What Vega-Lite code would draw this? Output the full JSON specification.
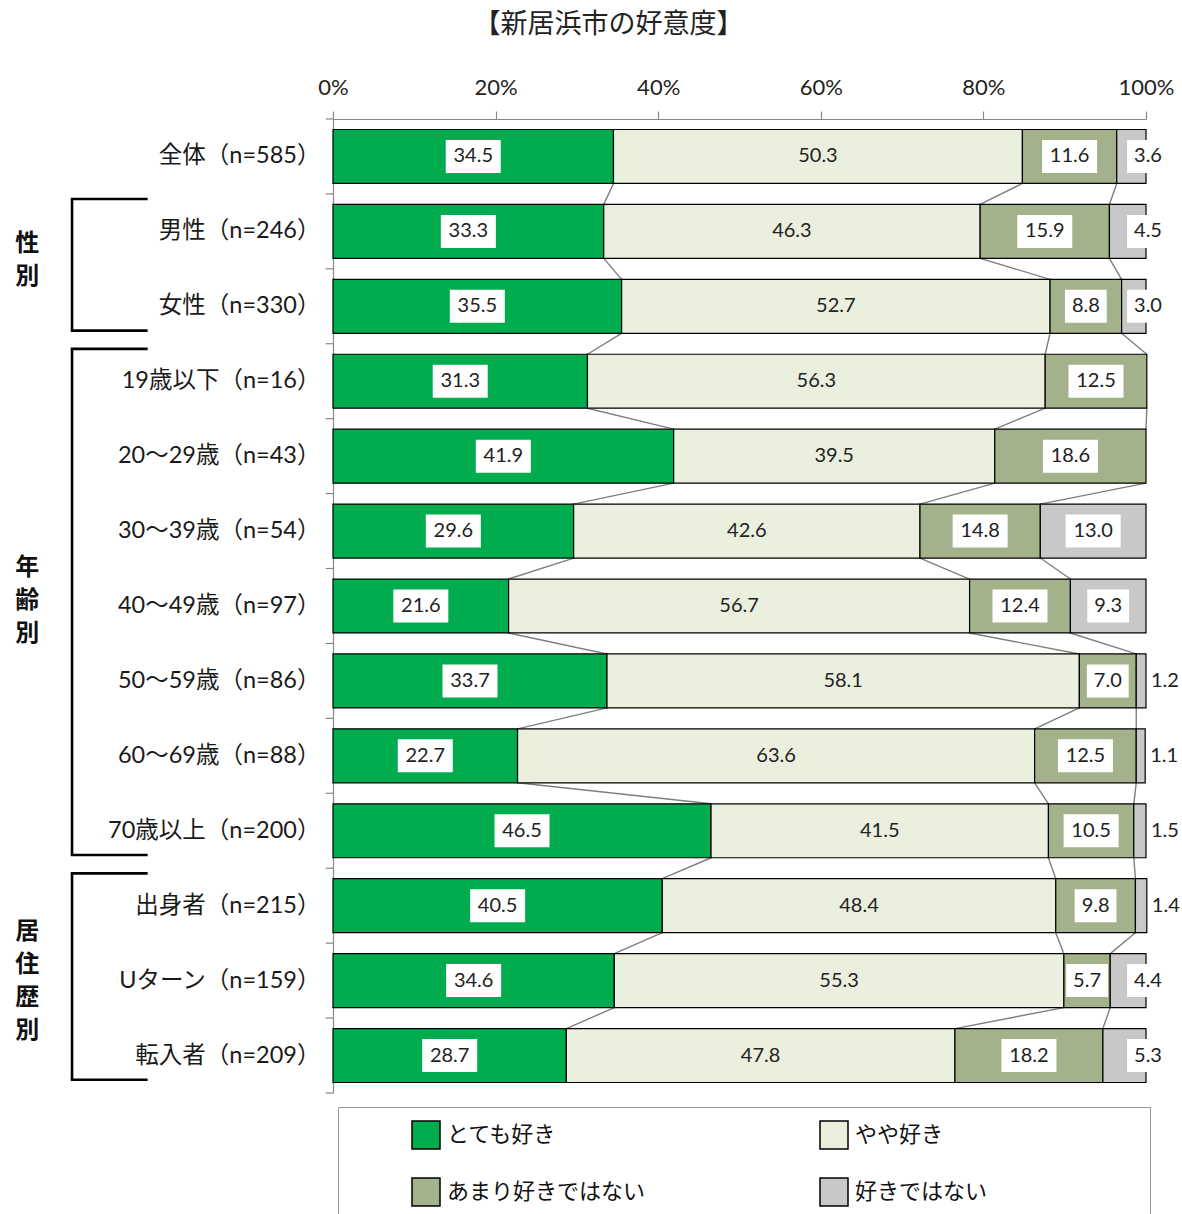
{
  "$schema": "https://vega.github.io/schema/vega-lite/v6.json",
  "width": 813,
  "height": 974,
  "autosize": "none",
  "padding": {"left": 333, "top": 119, "right": 36, "bottom": 121},
  "background": "white",
  "title": {
    "text": "【新居浜市の好意度】",
    "fontSize": 27,
    "font": "Noto Sans CJK JP",
    "fontWeight": "normal",
    "color": "#222222",
    "anchor": "middle",
    "dx": -131,
    "offset": 37
  },
  "config": {
    "view": {"stroke": null},
    "axisY": {
      "domainColor": "#888888",
      "domainWidth": 1.2,
      "ticks": false,
      "tickSize": 0,
      "labelPadding": 13,
      "labelFontSize": 23.5,
      "labelFont": "Lato, 'Noto Sans CJK JP'",
      "labelColor": "#1a1a1a",
      "labelLimit": 300
    },
    "axisX": {
      "domainColor": "#888888",
      "domainWidth": 1.2,
      "tickColor": "#888888",
      "tickSize": 8,
      "tickWidth": 1.2,
      "labelFontSize": 22,
      "labelFont": "Lato",
      "labelColor": "#222222",
      "labelPadding": 12,
      "labelFlush": false,
      "grid": false
    }
  },
  "datasets": {
    "rows": [
      {"row": "全体（n=585）", "とても好き": 34.5, "やや好き": 50.3, "あまり好きではない": 11.6, "好きではない": 3.6},
      {"row": "男性（n=246）", "とても好き": 33.3, "やや好き": 46.3, "あまり好きではない": 15.9, "好きではない": 4.5},
      {"row": "女性（n=330）", "とても好き": 35.5, "やや好き": 52.7, "あまり好きではない": 8.8, "好きではない": 3.0},
      {"row": "19歳以下（n=16）", "とても好き": 31.3, "やや好き": 56.3, "あまり好きではない": 12.5, "好きではない": null},
      {"row": "20～29歳（n=43）", "とても好き": 41.9, "やや好き": 39.5, "あまり好きではない": 18.6, "好きではない": null},
      {"row": "30～39歳（n=54）", "とても好き": 29.6, "やや好き": 42.6, "あまり好きではない": 14.8, "好きではない": 13.0},
      {"row": "40～49歳（n=97）", "とても好き": 21.6, "やや好き": 56.7, "あまり好きではない": 12.4, "好きではない": 9.3},
      {"row": "50～59歳（n=86）", "とても好き": 33.7, "やや好き": 58.1, "あまり好きではない": 7.0, "好きではない": 1.2},
      {"row": "60～69歳（n=88）", "とても好き": 22.7, "やや好き": 63.6, "あまり好きではない": 12.5, "好きではない": 1.1},
      {"row": "70歳以上（n=200）", "とても好き": 46.5, "やや好き": 41.5, "あまり好きではない": 10.5, "好きではない": 1.5},
      {"row": "出身者（n=215）", "とても好き": 40.5, "やや好き": 48.4, "あまり好きではない": 9.8, "好きではない": 1.4},
      {"row": "Uターン（n=159）", "とても好き": 34.6, "やや好き": 55.3, "あまり好きではない": 5.7, "好きではない": 4.4},
      {"row": "転入者（n=209）", "とても好き": 28.7, "やや好き": 47.8, "あまり好きではない": 18.2, "好きではない": 5.3}
    ],
    "groups": [
      {"group": "性\n別", "first": "男性（n=246）", "last": "女性（n=330）", "anchor": "男性（n=246）", "kind": "a"},
      {"group": "年\n齢\n別", "first": "19歳以下（n=16）", "last": "70歳以上（n=200）", "anchor": "40～49歳（n=97）", "kind": "b"},
      {"group": "居\n住\n歴\n別", "first": "出身者（n=215）", "last": "転入者（n=209）", "anchor": "Uターン（n=159）", "kind": "c"}
    ]
  },
  "layer": [
    {
      "data": {"name": "rows"},
      "transform": [
        {"calculate": "datum['とても好き']", "as": "c1"},
        {"calculate": "datum['とても好き'] + datum['やや好き']", "as": "c2"},
        {"calculate": "datum['とても好き'] + datum['やや好き'] + datum['あまり好きではない']", "as": "c3"},
        {"window": [
          {"op": "lead", "field": "c1", "as": "n1"},
          {"op": "lead", "field": "c2", "as": "n2"},
          {"op": "lead", "field": "c3", "as": "n3"},
          {"op": "lead", "field": "row", "as": "nrow"}
        ]},
        {"filter": "isValid(datum.nrow)"}
      ],
      "layer": [
        {
          "mark": {"type": "rule", "color": "#7f7f7f", "strokeWidth": 1.4},
          "encoding": {
            "x": {"field": "c1", "type": "quantitative", "title": null},
            "x2": {"field": "n1"},
            "y": {"field": "row", "type": "nominal", "sort": null, "bandPosition": 1, "title": null},
            "y2": {"field": "nrow", "bandPosition": 0}
          }
        },
        {
          "mark": {"type": "rule", "color": "#7f7f7f", "strokeWidth": 1.4},
          "encoding": {
            "x": {"field": "c2", "type": "quantitative", "title": null},
            "x2": {"field": "n2"},
            "y": {"field": "row", "type": "nominal", "sort": null, "bandPosition": 1, "title": null},
            "y2": {"field": "nrow", "bandPosition": 0}
          }
        },
        {
          "mark": {"type": "rule", "color": "#7f7f7f", "strokeWidth": 1.4},
          "encoding": {
            "x": {"field": "c3", "type": "quantitative", "title": null},
            "x2": {"field": "n3"},
            "y": {"field": "row", "type": "nominal", "sort": null, "bandPosition": 1, "title": null},
            "y2": {"field": "nrow", "bandPosition": 0}
          }
        }
      ]
    },
    {
      "data": {"name": "rows"},
      "transform": [
        {"fold": ["とても好き", "やや好き", "あまり好きではない", "好きではない"], "as": ["cat", "val"]},
        {"filter": "isValid(datum.val)"},
        {"calculate": "indexof(['とても好き','やや好き','あまり好きではない','好きではない'], datum.cat)", "as": "ord"},
        {"stack": "val", "groupby": ["row"], "sort": [{"field": "ord", "order": "ascending"}], "as": ["x0", "x1"]},
        {"calculate": "(datum.x0 + datum.x1) / 2", "as": "mid"}
      ],
      "layer": [
        {
          "mark": {"type": "bar", "stroke": "#000000", "strokeWidth": 1.2},
          "encoding": {
            "y": {
              "field": "row", "type": "nominal", "sort": null, "title": null,
              "scale": {
                "domain": ["全体（n=585）", "男性（n=246）", "女性（n=330）", "19歳以下（n=16）", "20～29歳（n=43）", "30～39歳（n=54）", "40～49歳（n=97）", "50～59歳（n=86）", "60～69歳（n=88）", "70歳以上（n=200）", "出身者（n=215）", "Uターン（n=159）", "転入者（n=209）"],
                "paddingInner": 0.28, "paddingOuter": 0.14
              }
            },
            "x": {
              "field": "x0", "type": "quantitative", "title": null,
              "scale": {"domain": [0, 100], "nice": false},
              "axis": {"orient": "top", "values": [0, 20, 40, 60, 80, 100], "labelExpr": "datum.value + '%'"}
            },
            "x2": {"field": "x1"},
            "color": {
              "field": "cat", "type": "nominal",
              "scale": {
                "domain": ["とても好き", "やや好き", "あまり好きではない", "好きではない"],
                "range": ["#00ac4e", "#ebefde", "#a3b28a", "#c8c8c8"]
              },
              "legend": {
                "title": "⠀⠀⠀",
                "titleOrient": "left",
                "titleFontSize": 25,
                "titleFont": "DejaVu Sans",
                "titlePadding": 1,
                "orient": "none",
                "legendX": 5,
                "legendY": 988,
                "direction": "horizontal",
                "columns": 2,
                "symbolType": "square",
                "symbolSize": 784,
                "symbolStrokeColor": "#000000",
                "symbolStrokeWidth": 1.5,
                "labelFontSize": 22,
                "labelFont": "Noto Sans CJK JP, DejaVu Sans",
                "labelColor": "#111111",
                "labelOffset": 6,
                "labelLimit": 600,
                "columnPadding": 22,
                "rowPadding": 23,
                "padding": 13,
                "strokeColor": "#999999",
                "labelExpr": "datum.label + '⠀⠀⠀⠀ ⠀⠀⠀⠀⠀'"
              }
            }
          }
        },
        {
          "transform": [{"filter": "datum.cat != 'やや好き' && datum.val >= 10 && !(datum.cat == '好きではない' && datum.val < 6)"}],
          "mark": {"type": "point", "shape": "M-1,-0.6H1V0.6H-1Z", "size": 3025, "filled": true, "color": "#ffffff", "opacity": 1, "strokeWidth": 0},
          "encoding": {
            "y": {"field": "row", "type": "nominal", "sort": null, "title": null},
            "x": {"field": "mid", "type": "quantitative", "title": null}
          }
        },
        {
          "transform": [{"filter": "datum.cat != 'やや好き' && datum.val >= 2 && datum.val < 10 && !(datum.cat == '好きではない' && datum.val < 6)"}],
          "mark": {"type": "point", "shape": "M-0.76,-0.6H0.76V0.6H-0.76Z", "size": 3025, "filled": true, "color": "#ffffff", "opacity": 1, "strokeWidth": 0},
          "encoding": {
            "y": {"field": "row", "type": "nominal", "sort": null, "title": null},
            "x": {"field": "mid", "type": "quantitative", "title": null}
          }
        },
        {
          "transform": [{"filter": "datum.cat == '好きではない' && datum.val >= 2 && datum.val < 6"}],
          "mark": {"type": "point", "shape": "M-0.76,-0.6H0.76V0.6H-0.76Z", "size": 3025, "filled": true, "color": "#ffffff", "opacity": 1, "strokeWidth": 0, "xOffset": 2},
          "encoding": {
            "y": {"field": "row", "type": "nominal", "sort": null, "title": null},
            "x": {"field": "x1", "type": "quantitative", "title": null}
          }
        },
        {
          "transform": [{"filter": "datum.val >= 2 && !(datum.cat == '好きではない' && datum.val < 6)"}],
          "mark": {"type": "text", "font": "Lato", "fontSize": 20, "color": "#222222", "align": "center", "baseline": "middle"},
          "encoding": {
            "y": {"field": "row", "type": "nominal", "sort": null, "title": null},
            "x": {"field": "mid", "type": "quantitative", "title": null},
            "text": {"field": "val", "type": "quantitative", "format": ".1f"}
          }
        },
        {
          "transform": [{"filter": "datum.cat == '好きではない' && datum.val >= 2 && datum.val < 6"}],
          "mark": {"type": "text", "font": "Lato", "fontSize": 20, "color": "#222222", "align": "center", "baseline": "middle", "xOffset": 2},
          "encoding": {
            "y": {"field": "row", "type": "nominal", "sort": null, "title": null},
            "x": {"field": "x1", "type": "quantitative", "title": null},
            "text": {"field": "val", "type": "quantitative", "format": ".1f"}
          }
        },
        {
          "transform": [{"filter": "datum.val < 2"}],
          "mark": {"type": "text", "font": "Lato", "fontSize": 20, "color": "#222222", "align": "left", "baseline": "middle", "xOffset": 5},
          "encoding": {
            "y": {"field": "row", "type": "nominal", "sort": null, "title": null},
            "x": {"field": "x1", "type": "quantitative", "title": null},
            "text": {"field": "val", "type": "quantitative", "format": ".1f"}
          }
        }
      ]
    },
    {
      "data": {"name": "rows"},
      "mark": {"type": "rule", "color": "#888888", "strokeWidth": 1.2},
      "encoding": {
        "y": {"field": "row", "type": "nominal", "sort": null, "bandPosition": -0.195, "title": null},
        "x": {"datum": -0.9},
        "x2": {"datum": 0}
      }
    },
    {
      "data": {"name": "rows"},
      "transform": [{"filter": "datum.row == '転入者（n=209）'"}],
      "mark": {"type": "rule", "color": "#888888", "strokeWidth": 1.2},
      "encoding": {
        "y": {"field": "row", "type": "nominal", "sort": null, "bandPosition": 1.195, "title": null},
        "x": {"datum": -0.9},
        "x2": {"datum": 0}
      }
    },
    {
      "data": {"name": "groups"},
      "layer": [
        {
          "mark": {"type": "rule", "color": "#000000", "strokeWidth": 2.6},
          "encoding": {
            "y": {"field": "first", "type": "nominal", "sort": null, "bandPosition": -0.1, "title": null},
            "y2": {"field": "last", "bandPosition": 0.95},
            "x": {"datum": -32.1}
          }
        },
        {
          "mark": {"type": "rule", "color": "#000000", "strokeWidth": 2.6},
          "encoding": {
            "y": {"field": "first", "type": "nominal", "sort": null, "bandPosition": -0.1, "title": null},
            "x": {"datum": -32.25},
            "x2": {"datum": -22.8}
          }
        },
        {
          "mark": {"type": "rule", "color": "#000000", "strokeWidth": 2.6},
          "encoding": {
            "y": {"field": "last", "type": "nominal", "sort": null, "bandPosition": 0.95, "title": null},
            "x": {"datum": -32.25},
            "x2": {"datum": -22.8}
          }
        },
        {
          "transform": [{"filter": "datum.kind == 'a'"}],
          "mark": {"type": "text", "font": "Noto Sans CJK JP", "fontWeight": "bold", "fontSize": 24, "lineHeight": 33, "lineBreak": "\n", "align": "center", "baseline": "middle", "color": "#111111"},
          "encoding": {
            "y": {"field": "anchor", "type": "nominal", "sort": null, "bandPosition": 0.74, "title": null},
            "x": {"datum": -37.6},
            "text": {"field": "group"}
          }
        },
        {
          "transform": [{"filter": "datum.kind == 'b'"}],
          "mark": {"type": "text", "font": "Noto Sans CJK JP", "fontWeight": "bold", "fontSize": 24, "lineHeight": 33, "lineBreak": "\n", "align": "center", "baseline": "middle", "color": "#111111"},
          "encoding": {
            "y": {"field": "anchor", "type": "nominal", "sort": null, "bandPosition": -0.2, "title": null},
            "x": {"datum": -37.6},
            "text": {"field": "group"}
          }
        },
        {
          "transform": [{"filter": "datum.kind == 'c'"}],
          "mark": {"type": "text", "font": "Noto Sans CJK JP", "fontWeight": "bold", "fontSize": 24, "lineHeight": 33, "lineBreak": "\n", "align": "center", "baseline": "middle", "color": "#111111"},
          "encoding": {
            "y": {"field": "anchor", "type": "nominal", "sort": null, "bandPosition": -0.41, "title": null},
            "x": {"datum": -37.6},
            "text": {"field": "group"}
          }
        }
      ]
    }
  ]
}
